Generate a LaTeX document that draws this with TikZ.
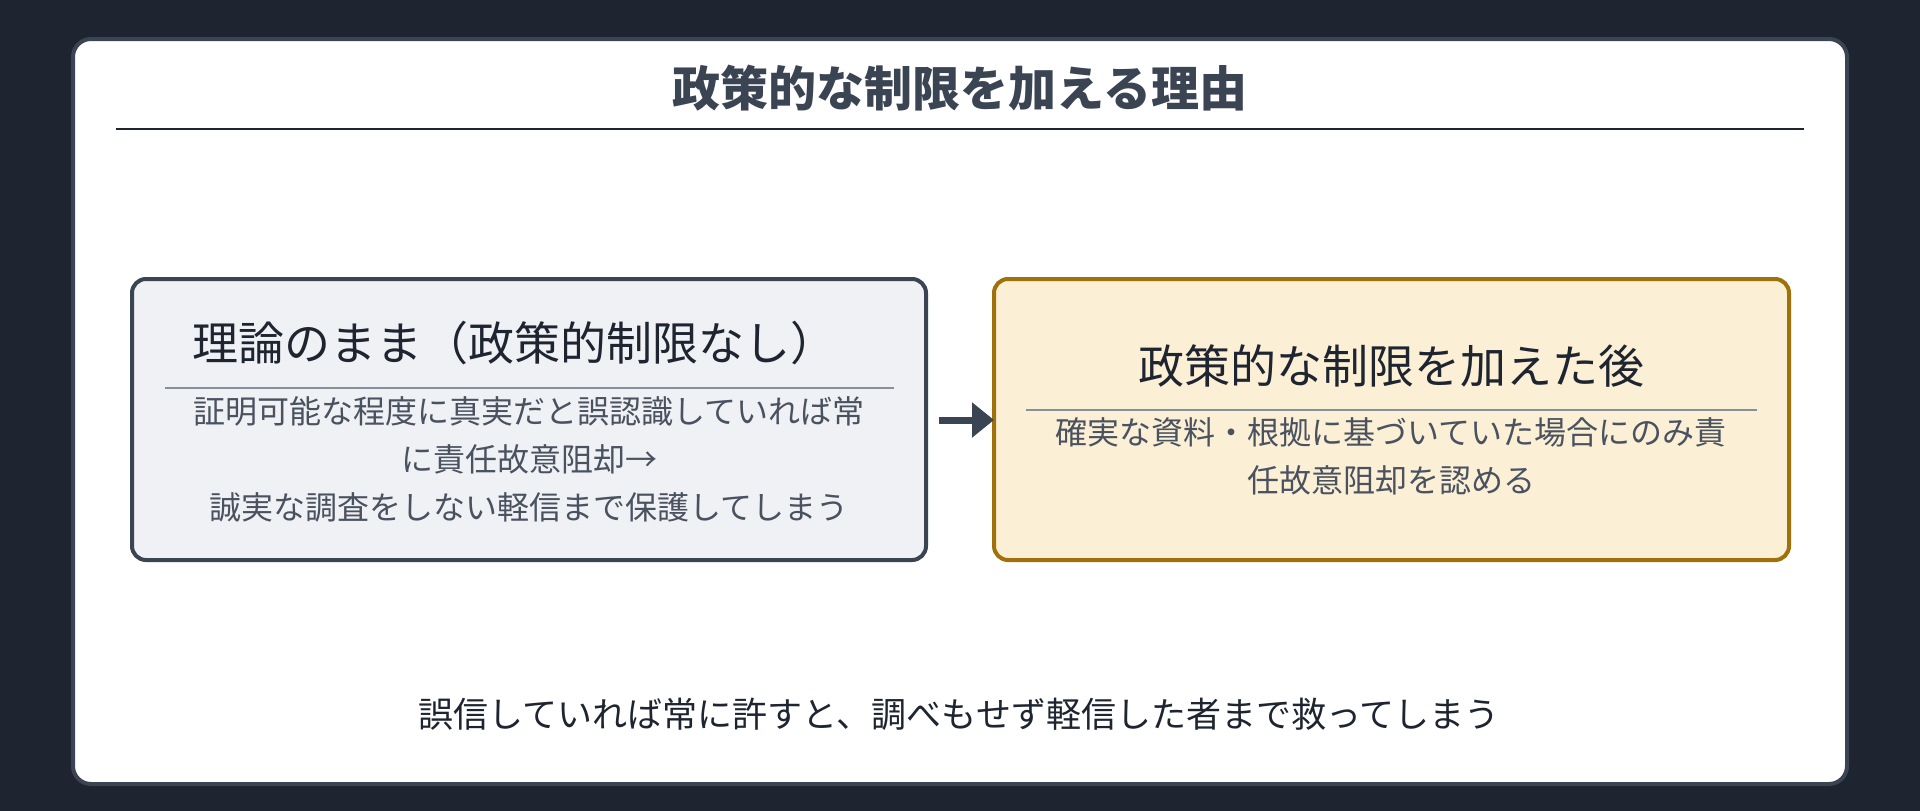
\documentclass[tikz,border=0pt]{standalone}
\usepackage{fontspec}
\newfontfamily\cjk{Noto Sans CJK JP}
\usetikzlibrary{arrows.meta}
\definecolor{bgdark}{HTML}{1E2530}
\definecolor{edge}{HTML}{3B4453}
\definecolor{lfill}{HTML}{EFF1F5}
\definecolor{rfill}{HTML}{FBF0D5}
\definecolor{redge}{HTML}{A0700A}
\definecolor{body}{HTML}{4A5260}
\begin{document}
\begin{tikzpicture}[x=1pt,y=-1pt,
  box/.style={rounded corners=14pt,line width=4pt},
  head/.style={font=\cjk\fontsize{46}{56}\selectfont,text=bgdark,anchor=center},
  txt/.style={font=\cjk\fontsize{32}{48}\selectfont,text=body,align=center,anchor=north}]
\fill[bgdark] (0,0) rectangle (1920,811);
\useasboundingbox (0,0) rectangle (1920,811);
\draw[edge,fill=white,line width=4pt,rounded corners=18pt] (73,39) rectangle (1847,784);
\node[font=\cjk\bfseries\fontsize{48}{58}\selectfont,text=edge] (title) at (960,88) {政策的な制限を加える理由};
\draw[bgdark,line width=2pt] (116,129) -- (1804,129);
\draw[box,edge,fill=lfill] (132,279) rectangle (926,560);
\node (lbox) at (529,420) {};
\node[head] (lh) at (514,343) {理論のまま（政策的制限なし）};
\draw[edge!60,line width=2pt] (165,388) -- (894,388);
\node[txt] (lt) at (529,393) {証明可能な程度に真実だと誤認識していれば常\\に責任故意阻却→\\誠実な調査をしない軽信まで保護してしまう};
\draw[box,redge,fill=rfill] (994,279) rectangle (1789,560);
\node (rbox) at (1391,420) {};
\node[head] (rh) at (1391,366) {政策的な制限を加えた後};
\draw[edge!60,line width=2pt] (1026,410) -- (1757,410);
\node[txt] (rt) at (1391,414) {確実な資料・根拠に基づいていた場合にのみ責\\任故意阻却を認める};
\coordinate (a1) at (939,420);
\coordinate (a2) at (994,420);
\draw[edge,line width=7pt,-{Triangle[length=22pt,width=34pt]}] (a1) -- (a2);
\node[font=\cjk\fontsize{35}{42}\selectfont,text=bgdark] (bot) at (959,714) {誤信していれば常に許すと、調べもせず軽信した者まで救ってしまう};
\end{tikzpicture}
\end{document}
